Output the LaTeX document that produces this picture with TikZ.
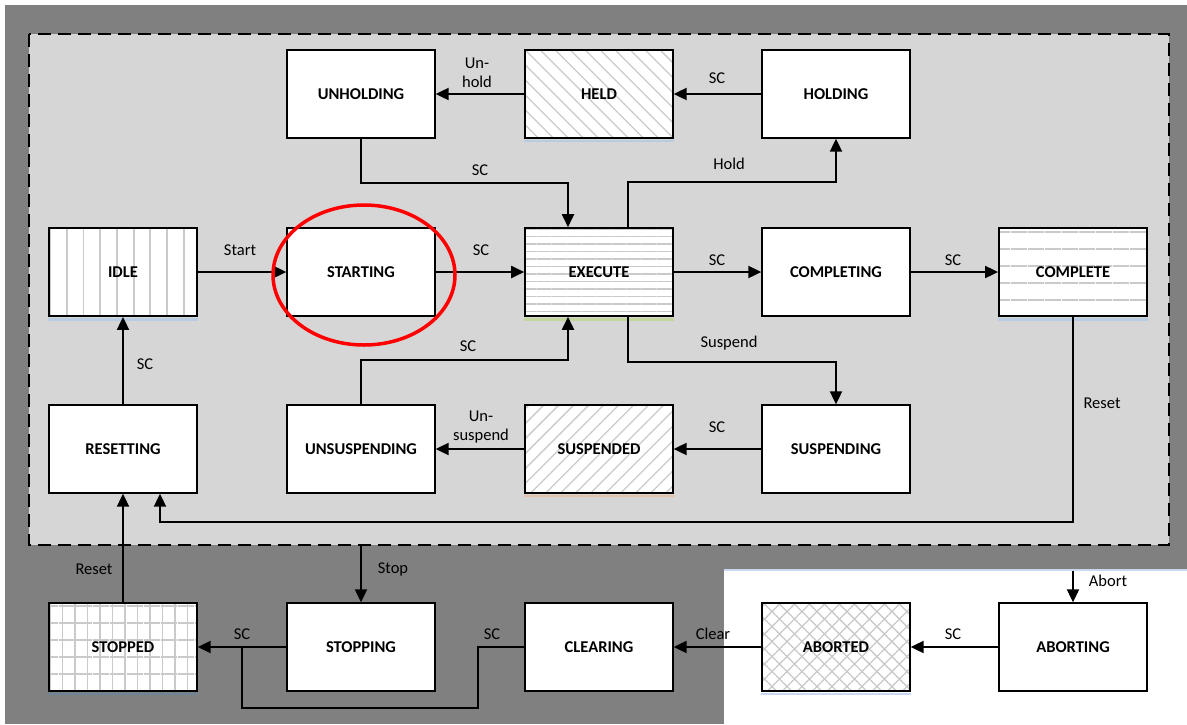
\documentclass[tikz,border=0pt]{standalone}
\usepackage{fontspec}
\setmainfont{Carlito}
\usetikzlibrary{arrows.meta,patterns.meta}

\definecolor{outergray}{HTML}{808080}
\definecolor{innergray}{HTML}{D6D6D6}
\definecolor{hatchgray}{HTML}{CACACA}
\definecolor{shadeblue}{HTML}{B8CCE4}
\definecolor{shadegreen}{HTML}{C3D69B}
\definecolor{shadeorange}{HTML}{E8C0A8}
\definecolor{shadesteel}{HTML}{6F8399}
\definecolor{edgeblue}{HTML}{C6D9F1}

\tikzset{
  state/.style={draw, line width=1.3pt, fill=white, minimum width=148pt,
    minimum height=88pt, inner sep=0pt,
    font=\fontsize{16.5}{19.5}\selectfont\bfseries},
  lbl/.style={font=\fontsize{16.5}{19.5}\selectfont, inner sep=0pt, align=center},
  trans/.style={line width=1.9pt, -{Triangle[length=13pt,width=12pt]}},
  link/.style={line width=1.9pt},
  zone/.style={fill=innergray, draw=black, line width=1.5pt,
    dash pattern=on 13pt off 7pt},
  shade/.style={line width=2.5pt},
  vlines/.style={preaction={fill=white},
    pattern={Lines[angle=90,distance=16.7pt,line width=1.8pt]}, pattern color=hatchgray},
  hlines/.style={preaction={fill=white},
    pattern={Lines[angle=0,distance=7.5pt,line width=1.6pt]}, pattern color=hatchgray},
  widehlines/.style={preaction={fill=white},
    pattern={Lines[angle=0,distance=17pt,line width=1.8pt]}, pattern color=hatchgray},
  fallhatch/.style={preaction={fill=white},
    pattern={Lines[angle=-45,distance=10.6pt,line width=1.3pt]}, pattern color=hatchgray},
  risehatch/.style={preaction={fill=white},
    pattern={Lines[angle=45,distance=10.6pt,line width=1.3pt]}, pattern color=hatchgray},
  gridlines/.style={preaction={fill=white},
    preaction={pattern={Lines[angle=90,distance=12.5pt,line width=1.8pt]}, pattern color=hatchgray},
    pattern={Lines[angle=0,distance=17pt,line width=1.8pt]}, pattern color=hatchgray},
  crosshatch/.style={preaction={fill=white},
    pattern={Hatch[angle=45,distance=10.6pt,line width=1.3pt]}, pattern color=hatchgray}
}

\begin{document}
\begin{tikzpicture}[x=1pt,y=-1pt]
        \useasboundingbox (0,0) rectangle (1187,724);
        % background
        \fill[white] (0,0) rectangle (1187,724);
        \fill[outergray] (5,5) rectangle (1187,724);
        \fill[white] (724,570) rectangle (1187,724);
        \draw[edgeblue, line width=1.5pt] (724,570) -- (1187,570);
        \draw[zone] (29,34) rectangle (1169,545);

        % states
        \node[state] (UNHOLDING) at (361,94) {UNHOLDING};
        \node[state, fallhatch] (HELD) at (599,94) {HELD};
        \node[state] (HOLDING) at (836,94) {HOLDING};

        \node[state, vlines] (IDLE) at (123,272) {IDLE};
        \node[state] (STARTING) at (361,272) {STARTING};
        \node[state, hlines] (EXECUTE) at (599,272) {EXECUTE};
        \node[state] (COMPLETING) at (836,272) {COMPLETING};
        \node[state, widehlines] (COMPLETE) at (1073,272) {COMPLETE};

        \node[state] (RESETTING) at (123,449) {RESETTING};
        \node[state] (UNSUSPENDING) at (361,449) {UNSUSPENDING};
        \node[state, risehatch] (SUSPENDED) at (599,449) {SUSPENDED};
        \node[state] (SUSPENDING) at (836,449) {SUSPENDING};

        \node[state, gridlines] (STOPPED) at (123,647) {STOPPED};
        \node[state] (STOPPING) at (361,647) {STOPPING};
        \node[state] (CLEARING) at (599,647) {CLEARING};
        \node[state, crosshatch] (ABORTED) at (836,647) {ABORTED};
        \node[state] (ABORTING) at (1073,647) {ABORTING};

        % thin coloured shades under the patterned states
        \foreach \s/\c in {IDLE/shadeblue, HELD/shadeblue, COMPLETE/shadeblue,
            EXECUTE/shadegreen, SUSPENDED/shadeorange, STOPPED/shadesteel,
            ABORTED/edgeblue}
          \draw[shade, \c] ([yshift=-2.5pt]\s.south west) -- ([yshift=-2.5pt]\s.south east);

        \coordinate (stopin) at (361,545);
        \coordinate (abortin) at (1073,571);
        \coordinate (joinsc) at (242,647);

        % transitions
        \draw[trans] (HOLDING) -- (HELD);
        \draw[trans] (HELD) -- (UNHOLDING);
        \draw[trans] (UNHOLDING.south) -- ++(0,44) -| ([xshift=-31pt]EXECUTE.north);
        \draw[trans] ([xshift=29pt]EXECUTE.north) -- ++(0,-45) -| (HOLDING.south);
        \draw[trans] (IDLE) -- (STARTING);
        \draw[trans] (STARTING) -- (EXECUTE);
        \draw[trans] (EXECUTE) -- (COMPLETING);
        \draw[trans] (COMPLETING) -- (COMPLETE);
        \draw[trans] ([xshift=29pt]EXECUTE.south) -- ++(0,45) -| (SUSPENDING.north);
        \draw[trans] (SUSPENDING) -- (SUSPENDED);
        \draw[trans] (SUSPENDED) -- (UNSUSPENDING);
        \draw[trans] (UNSUSPENDING.north) -- ++(0,-44) -| ([xshift=-31pt]EXECUTE.south);
        \draw[trans] (RESETTING) -- (IDLE);
        \draw[trans] (COMPLETE.south) -- ++(0,205) -| ([xshift=37pt]RESETTING.south);
        \draw[trans] (STOPPED) -- (RESETTING);
        \draw[trans] (stopin) -- (STOPPING);
        \draw[trans] (STOPPING) -- (STOPPED);
        \draw[link] (CLEARING.west) -- ++(-46,0) -- ++(0,61) -| (joinsc);
        \draw[trans] (ABORTED) -- (CLEARING);
        \draw[trans] (ABORTING) -- (ABORTED);
        \draw[trans] (abortin) -- (ABORTING);

        % labels
        \node[lbl] (lunhold) at (477,73) {Un-\\hold};
        \node[lbl] (lheld) at (717,78) {SC};
        \node[lbl] (lexec) at (480,170) {SC};
        \node[lbl] (lhold) at (729,164) {Hold};
        \node[lbl] (lstart) at (240,250) {Start};
        \node[lbl] (lstarting) at (481,250) {SC};
        \node[lbl] (lcompleting) at (717,260) {SC};
        \node[lbl] (lcomplete) at (953,260) {SC};
        \node[lbl] (lsuspend) at (729,343) {Suspend};
        \node[lbl] (lunsusp) at (468,346) {SC};
        \node[lbl] (lsuspended) at (717,427) {SC};
        \node[lbl] (lunsuspend) at (481,427) {Un-\\suspend};
        \node[lbl] (lidle) at (145,364) {SC};
        \node[lbl] (lreset) at (1102,403) {Reset};
        \node[lbl] (lresetting) at (94,569) {Reset};
        \node[lbl] (lstop) at (393,569) {Stop};
        \node[lbl] (labort) at (1108,581) {Abort};
        \node[lbl] (lstopped) at (242,634) {SC};
        \node[lbl] (lclearing) at (492,634) {SC};
        \node[lbl] (lclear) at (713,634) {Clear};
        \node[lbl] (laborted) at (953,634) {SC};

        % highlight
        \draw[red, line width=3.5pt] (364,275) ellipse [x radius=91pt, y radius=70pt];
\end{tikzpicture}
\end{document}
